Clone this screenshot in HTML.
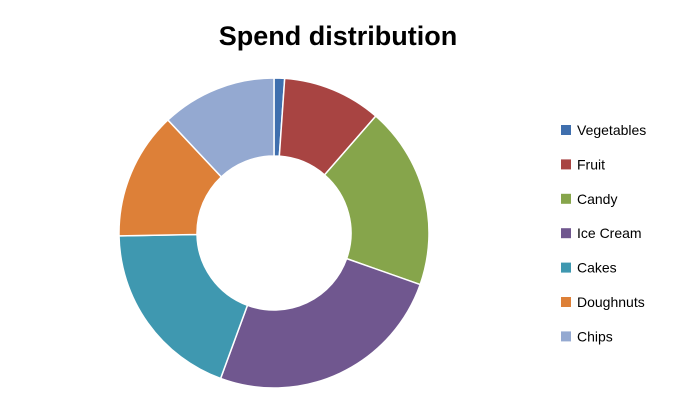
<!DOCTYPE html>
<html><head><meta charset="utf-8"><style>
body{margin:0;background:#fff;width:679px;height:409px;overflow:hidden;font-family:"Liberation Sans",sans-serif}
</style></head><body>
<svg id="chart" width="679" height="409" xmlns="http://www.w3.org/2000/svg">
<text x="338" y="45" text-anchor="middle" font-size="27" font-weight="bold" fill="#000">Spend distribution</text>
<g id="slices"></g><g id="legend"></g>
</svg>
<script>
const categories=["Vegetables","Fruit","Candy","Ice Cream","Cakes","Doughnuts","Chips"];
const values=[1.1,10.3,19,25.2,19.1,13.3,12.0];
const colors=["#3f6fae","#a84442","#86a54b","#70578f","#3f98b0","#dd8038","#94a9d1"];
const cx=274,cy=233,R=155,r=77;
const NS="http://www.w3.org/2000/svg";
const total=values.reduce((a,b)=>a+b,0);
function pt(a,rad){return [cx+rad*Math.sin(a),cy-rad*Math.cos(a)];}
let a0=0;
const gs=document.getElementById('slices'),gl=document.getElementById('legend');
values.forEach((v,i)=>{
 const a1=a0+v/total*2*Math.PI;const lg=(a1-a0)>Math.PI?1:0;
 const [x0,y0]=pt(a0,R),[x1,y1]=pt(a1,R),[x2,y2]=pt(a1,r),[x3,y3]=pt(a0,r);
 const p=document.createElementNS(NS,'path');
 p.setAttribute('d',`M${x0},${y0}A${R},${R} 0 ${lg} 1 ${x1},${y1}L${x2},${y2}A${r},${r} 0 ${lg} 0 ${x3},${y3}Z`);
 p.setAttribute('fill',colors[i]);p.setAttribute('stroke','#fff');p.setAttribute('stroke-width','1.5');
 
 
 gs.appendChild(p);a0=a1;
 const y=130+i*34.4;
 const s=document.createElementNS(NS,'rect');
 s.setAttribute('x',561);s.setAttribute('y',y-5);s.setAttribute('width',10);s.setAttribute('height',10);s.setAttribute('fill',colors[i]);
 
 
 gl.appendChild(s);
 const t=document.createElementNS(NS,'text');
 t.setAttribute('x',577);t.setAttribute('y',y+5);t.setAttribute('font-size','14');t.setAttribute('fill','#000');
 t.textContent=categories[i];
 
 
 gl.appendChild(t);
});
</script>
</body></html>
